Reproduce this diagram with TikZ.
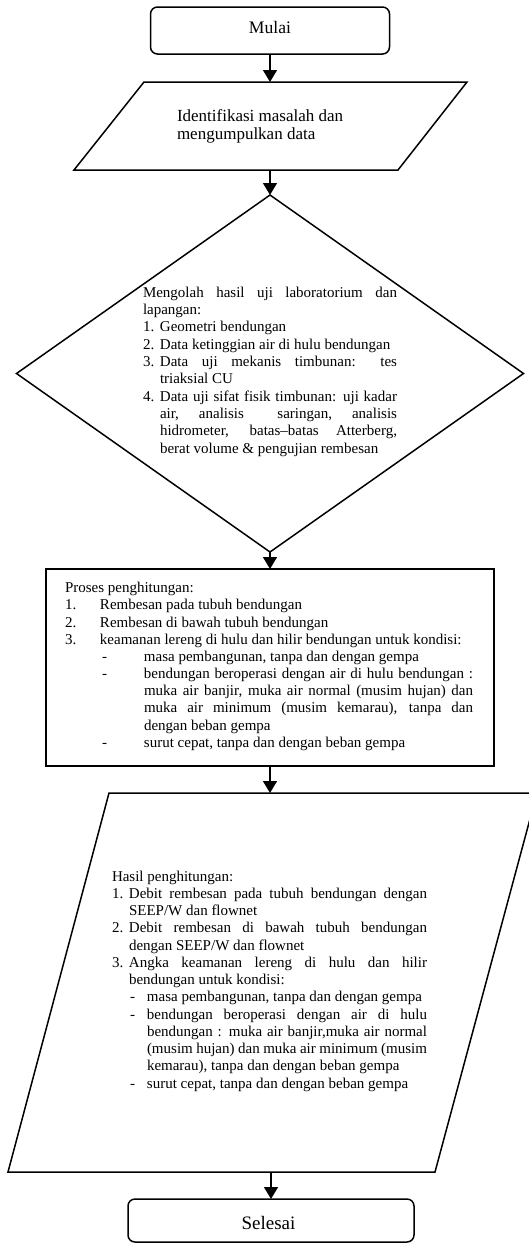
\documentclass[tikz,border=0pt]{standalone}
\usepackage{fontspec}
\setmainfont{Liberation Serif}
\usetikzlibrary{arrows.meta,shapes.geometric}
\newdimen\blkw
% justified line: label offset, label, text offset, text
\newcommand\jline[4]{\hbox{\hspace*{#1pt}\makebox[\dimexpr#3pt-#1pt\relax][l]{#2}\hbox to \dimexpr\blkw-#3pt\relax{#4}}}
% plain (left aligned) line
\newcommand\pline[4]{\hbox{\hspace*{#1pt}\makebox[\dimexpr#3pt-#1pt\relax][l]{#2}#4}}
\begin{document}
\begin{tikzpicture}[x=1pt,y=-1pt,line width=1.5pt,
  arr/.style={-{Triangle[width=14pt,length=12pt]}},
  term/.style={draw,rounded corners=7pt,inner sep=0pt,outer sep=0pt},
  boxed/.style={draw,inner sep=0pt,outer sep=0pt},
  txt/.style={inner sep=0pt,outer sep=0pt,anchor=base west},
  lbl/.style={inner sep=0pt,outer sep=0pt,anchor=base}]
\useasboundingbox (0,0) rectangle (529,1243);
\clip (0,0) rectangle (529,1243);

% Mulai
\node[term,minimum width=239pt,minimum height=47pt] (mulai) at (270,30.5) {};
\node[lbl,font=\fontsize{17.6}{20}\selectfont] (mulaiT) at (270,33.3) {Mulai};

% Parallelogram 1
\coordinate (p1a) at (144,82);
\coordinate (p1b) at (467,82);
\coordinate (p1c) at (398,170);
\coordinate (p1d) at (74,170);
\draw (p1a) -- (p1b) -- (p1c) -- (p1d) -- cycle;
\coordinate (p1N) at (270,82);
\coordinate (p1S) at (270,170);
\node[txt] (identT) at (177,121.5) {\vtop{\fontsize{17}{17.5}\selectfont
  \hbox{Identifikasi masalah dan}\hbox{mengumpulkan data}}};

% Diamond
\node[diamond,boxed,minimum width=507pt,minimum height=357pt] (dia) at (270,373.5) {};
\node[txt] (diaT) at (143,297.3) {\blkw=254pt\vtop{\fontsize{15}{17.3}\selectfont
  \jline{0}{}{0}{Mengolah hasil uji laboratorium dan}
  \pline{0}{}{0}{lapangan:}
  \pline{0}{1.}{17}{Geometri bendungan}
  \pline{0}{2.}{17}{Data ketinggian air di hulu bendungan}
  \jline{0}{3.}{17}{Data uji mekanis timbunan: tes}
  \pline{17}{}{17}{triaksial CU}
  \jline{0}{4.}{17}{Data uji sifat fisik timbunan: uji kadar}
  \jline{17}{}{17}{air, analisis\ \ saringan, analisis}
  \jline{17}{}{17}{hidrometer, batas–batas Atterberg,}
  \pline{17}{}{17}{berat volume \& pengujian rembesan}}};

% Proses rectangle
\node[boxed,minimum width=448pt,minimum height=197pt] (proses) at (270,667.5) {};
\node[txt] (prosesT) at (65,592.7) {\blkw=408pt\vtop{\fontsize{15}{17.18}\selectfont
  \pline{0}{}{0}{Proses penghitungan:}
  \pline{0}{1.}{35}{Rembesan pada tubuh bendungan}
  \pline{0}{2.}{35}{Rembesan di bawah tubuh bendungan}
  \pline{0}{3.}{35}{keamanan lereng di hulu dan hilir bendungan untuk kondisi:}
  \pline{37}{-}{79}{masa pembangunan, tanpa dan dengan gempa}
  \jline{37}{-}{79}{bendungan beroperasi dengan air di hulu bendungan :}
  \jline{79}{}{79}{muka air banjir, muka air normal (musim hujan) dan}
  \jline{79}{}{79}{muka air minimum (musim kemarau), tanpa dan}
  \pline{79}{}{79}{dengan beban gempa}
  \pline{37}{-}{79}{surut cepat, tanpa dan dengan beban gempa}}};

% Parallelogram 2
\coordinate (p2a) at (109,793);
\coordinate (p2b) at (537,793);
\coordinate (p2c) at (435,1172);
\coordinate (p2d) at (8,1172);
\draw (p2a) -- (p2b) -- (p2c) -- (p2d) -- cycle;
\coordinate (p2N) at (270,793);
\coordinate (p2S) at (271,1172);
\node[txt] (hasilT) at (112,881) {\blkw=315pt\vtop{\fontsize{15}{17.25}\selectfont
  \pline{0}{}{0}{Hasil penghitungan:}
  \jline{0}{1.}{17}{Debit rembesan pada tubuh bendungan dengan}
  \pline{17}{}{17}{SEEP/W dan flownet}
  \jline{0}{2.}{17}{Debit rembesan di bawah tubuh bendungan}
  \pline{17}{}{17}{dengan SEEP/W dan flownet}
  \jline{0}{3.}{17}{Angka keamanan lereng di hulu dan hilir}
  \pline{17}{}{17}{bendungan untuk kondisi:}
  \pline{18}{-}{35}{masa pembangunan, tanpa dan dengan gempa}
  \jline{18}{-}{35}{bendungan beroperasi dengan air di hulu}
  \jline{35}{}{35}{bendungan : muka air banjir,muka air normal}
  \jline{35}{}{35}{(musim hujan) dan muka air minimum (musim}
  \pline{35}{}{35}{kemarau), tanpa dan dengan beban gempa}
  \pline{18}{-}{35}{surut cepat, tanpa dan dengan beban gempa}}};

% Selesai
\node[term,minimum width=286pt,minimum height=43pt] (selesai) at (271,1220.5) {};
\node[lbl,font=\fontsize{19}{22}\selectfont] (selesaiT) at (268.5,1229) {Selesai};

% Connectors
\draw[arr] (mulai.south) -- (p1N);
\draw[arr] (p1S) -- (dia.north);
\draw[arr] (dia.south) -- (proses.north);
\draw[arr] (proses.south) -- (p2N);
\draw[arr] (p2S) -- (selesai.north);
\end{tikzpicture}
\end{document}
